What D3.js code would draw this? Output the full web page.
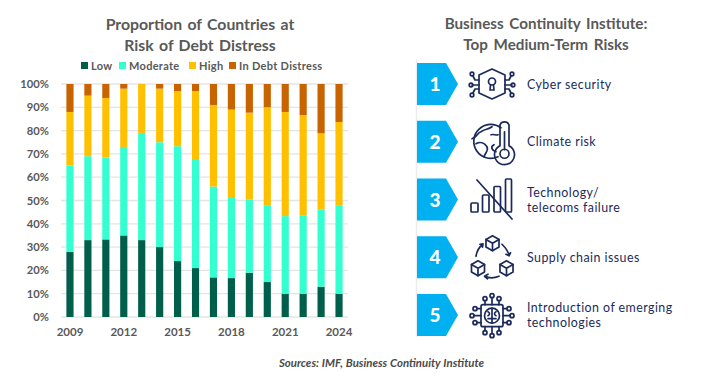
<!DOCTYPE html>
<html><head><meta charset="utf-8">
<script src="https://cdn.jsdelivr.net/npm/d3@7"></script>
<style>html,body{margin:0;padding:0;background:#fff}svg{display:block}text{font-family:Lato,"Open Sans",sans-serif}</style>
</head><body><svg id="c" width="715" height="383"></svg>
<script>
const years=[2009,2010,2011,2012,2013,2014,2015,2016,2017,2018,2019,2020,2021,2022,2023,2024];
const low=[28,33,33.3,35,33,30,24,21,17,16.7,19,15,10,10,13,10];
const moderate=[37,36,35.2,38,46,45,49.3,46.8,39,34.8,31.5,33,33.3,33.7,33,38];
const high=[23,26,25.5,25,21,23,23.7,29.2,35,37.5,37.2,42,44.7,43,32.8,35.7];
const distress=[12,5,6,2,0,2,3,3,9,11,12.3,10,12,13.3,21.2,16.3];
const seriesNames=["Low","Moderate","High","In Debt Distress"];
const seriesColors=["#005f4b","#33ffd1","#ffc000","#c86400"];
const xTickYears=[2009,2012,2015,2018,2021,2024];
const yTicks=[0,10,20,30,40,50,60,70,80,90,100];
const risks=[["Cyber security"],["Climate risk"],["Technology/","telecoms failure"],["Supply chain issues"],["Introduction of emerging","technologies"]];

const svg=d3.select("#c");
const grey="#595959",navy="#1b2a5b",blue="#00b0f0";
const y=d3.scaleLinear().domain([0,100]).range([317,84]);
const x=d3.scaleBand().domain(years).range([61,348]).paddingInner(0.6).paddingOuter(0.3);

function centered(lines,cx,ys,size,fill,w,ws){lines.forEach((t,i)=>svg.append("text").attr("x",cx).attr("y",ys[i]).attr("text-anchor","middle").attr("font-size",size).attr("font-weight",w).attr("fill",fill).attr("word-spacing",ws).text(t));}
centered(["Proportion  of Countries  at","Risk of Debt Distress"],200,[30,51],15.8,grey,700,1.5);
centered(["Business Continuity Institute:","Top Medium-Term  Risks"],546,[29,50],15.2,grey,700,2);
centered(["Sources: IMF, Business Continuity Institute"],381.5,[367],11.4,"#4a4a4a",700,0.4);
svg.select("text:last-of-type").attr("font-style","italic");

const ya=svg.append("g").attr("transform","translate(61,0)").call(d3.axisLeft(y).tickValues(yTicks).tickFormat(d=>d+"%").tickSize(0).tickPadding(12));
ya.select(".domain").remove();
ya.selectAll("text").attr("font-size",11.2).attr("font-weight",700).attr("fill",grey).style("font-family","Lato,sans-serif");
svg.append("g").selectAll("line").data(yTicks).join("line").attr("x1",61).attr("x2",348).attr("y1",d=>y(d)).attr("y2",d=>y(d)).attr("stroke","#e4e4e4").attr("stroke-width",1.3);

const rows=years.map((yr,i)=>({yr,s0:low[i],s1:moderate[i],s2:high[i],s3:distress[i]}));
const stack=d3.stack().keys(["s0","s1","s2","s3"])(rows);
svg.append("g").selectAll("g").data(stack).join("g").attr("fill",(d,i)=>seriesColors[i])
 .selectAll("rect").data(d=>d).join("rect")
 .attr("x",d=>x(d.data.yr)).attr("width",x.bandwidth())
 .attr("y",d=>y(d[1])).attr("height",d=>y(d[0])-y(d[1]));

const xa=svg.append("g").attr("transform","translate(0,317)").call(d3.axisBottom(x).tickValues(xTickYears).tickSize(0).tickPadding(11));
xa.select(".domain").remove();
xa.selectAll("text").attr("font-size",11.5).attr("font-weight",700).attr("fill",grey).style("font-family","Lato,sans-serif");

const legX=[81,119,189,229];
seriesNames.forEach((n,i)=>{
 svg.append("rect").attr("x",legX[i]).attr("y",62).attr("width",7).attr("height",7).attr("fill",seriesColors[i]);
 svg.append("text").attr("x",legX[i]+10).attr("y",70).attr("font-size",11).attr("font-weight",700).attr("fill",grey).attr("letter-spacing",0.3).text(n);
});

function node(g,cx,cy,r){g.append("circle").attr("cx",cx).attr("cy",cy).attr("r",r);}
function seg(g,d){g.append("path").attr("d",d);}
function cube(g,cx,cy,r){
 seg(g,`M${cx},${cy-r}L${cx+r*.87},${cy-r/2}V${cy+r/2}L${cx},${cy+r}L${cx-r*.87},${cy+r/2}V${cy-r/2}Z`);
 seg(g,`M${cx-r*.87},${cy-r/2}L${cx},${cy}L${cx+r*.87},${cy-r/2}M${cx},${cy}V${cy+r}`);
}
const icons=[
 g=>{
  seg(g,"M0,-15L13,-9V9L0,15L-13,9V-9Z");
  node(g,0,-2.5,3.5);seg(g,"M-1.5,1L-2,6H2L1.5,1");
  seg(g,"M-13,-4H-17L-19,-8M-13,1H-20M-13,5H-17L-19,9");
  seg(g,"M13,-4H17L19,-8M13,1H20M13,5H17L19,9");
  [[-20,-10],[-21,1],[-20,11],[20,-10],[21,1],[20,11]].forEach(p=>node(g,p[0],p[1],1.8));
 },
 g=>{
  seg(g,"M9,-14A17,17 0 1 0 6,15");
  seg(g,"M-20,-3C-14,-5 -15,-9 -11,-10C-7,-13 -4,-12 0,-15M-16,2C-11,-1 -7,2 -5,5C-3,9 -7,11 -8,15M2,3C-2,5 0,9 4,10M-1,-7C2,-8 4,-6 6,-7");
  seg(g,"M8,4V-17A5,5 0 0 1 17,-17V4A10,10 0 1 1 8,4Z");
  node(g,12.5,12,4.5);seg(g,"M12.5,8V-10");
 },
 g=>{
  [[-21,3.5,7,9],[-9.5,-4.5,6.5,17],[2,-13,6.5,25.5],[13.5,-20.5,6,33]].forEach(b=>g.append("rect").attr("x",b[0]).attr("y",b[1]).attr("width",b[2]).attr("height",b[3]).attr("rx",1));
  seg(g,"M-15,-19.5L20,19.5");
 },
 g=>{
  cube(g,0.5,-14,7.5);cube(g,-14,11,7.5);cube(g,14.5,11,7.5);
  seg(g,"M-16,-1C-15,-7 -12,-11 -9,-13M-12,-13L-9,-13.5L-9.5,-10");
  seg(g,"M10,-13C13,-10 16,-7 17,-2M14,-3L17,-1.5L18.5,-4.5");
  seg(g,"M7,19C2,21 -3,21 -7,19M-4,17L-7.5,19L-4.5,21.5");
 },
 g=>{
  g.attr("transform","translate(492,0.7)");
  g.append("rect").attr("x",-11).attr("y",-11).attr("width",22).attr("height",22).attr("rx",2);
  node(g,0,0,7.5);seg(g,"M0,-7.5V7.5M-4,-4C-2,-3 -2,-1 -4,0M4,-4C2,-3 2,-1 4,0M-4,3H-1M4,3H1");
  [-7,0,7].forEach(v=>{
   const far=v===0?20:17;
   seg(g,`M${v},-11V${-far+2}`);node(g,v,-far,2);
   seg(g,`M${v},11V${far-2}`);node(g,v,far,2);
   seg(g,`M-11,${v}H${-far+2}`);node(g,-far,v,2);
   seg(g,`M11,${v}H${far-2}`);node(g,far,v,2);
  });
 }
];

svg.append("line").attr("x1",416.5).attr("x2",416.5).attr("y1",59).attr("y2",337).attr("stroke","#ececec").attr("stroke-width",1.5);
const rowScale=d3.scalePoint().domain(d3.range(5)).range([84,315]);
risks.forEach((lines,i)=>{
 const g=svg.append("g").attr("transform",`translate(0,${rowScale(i)})`);
 g.append("path").attr("d",d3.line()([[417,-21],[446,-21],[458,0],[446,21],[417,21]])+"Z").attr("fill",blue);
 g.append("text").attr("x",435).attr("y",7).attr("text-anchor","middle").attr("font-size",19).attr("font-weight",900).attr("fill","#fff").text(i+1);
 const lh=15;
 const t=g.append("text").attr("y",4.5-(lines.length-1)*lh/2).attr("font-size",12.4).attr("letter-spacing",0.45).attr("fill",navy);
 lines.forEach((s,j)=>t.append("tspan").attr("x",527).attr("dy",j?lh:0).text(s));
 const ic=g.append("g").attr("transform","translate(492,0)").attr("fill","none").attr("stroke",navy).attr("stroke-width",1.7).attr("stroke-linecap","round").attr("stroke-linejoin","round");
 icons[i](ic);
});
</script>
</body></html>
